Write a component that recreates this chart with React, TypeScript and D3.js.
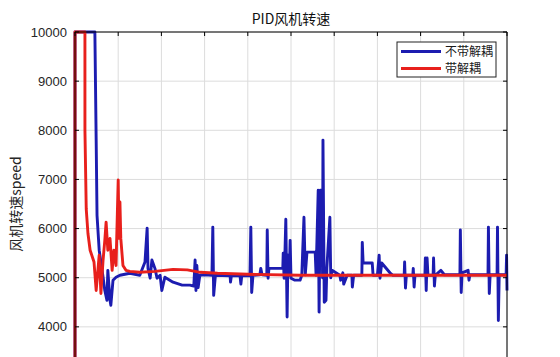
import React from "react";
import * as d3 from "d3";

const title = "PID风机转速";
const yLabel = "风机转速speed";
const seriesNames = ["不带解耦", "带解耦"];
const yTicks = [4000, 5000, 6000, 7000, 8000, 9000, 10000];
const xTicks = [0, 1, 2, 3, 4, 5, 6, 7, 8, 9, 10];

// 不带解耦 (blue)
const blueSeries: [number, number][] = [
  [0, 3000], [0, 10000], [0.46, 10000], [0.49, 7800], [0.51, 6270], [0.56, 5560], [0.6, 5320], [0.65, 5010],
  [0.69, 4740], [0.74, 4540], [0.76, 5150], [0.81, 4540], [0.83, 4440], [0.88, 4950], [0.95, 5010], [1.04, 5050],
  [1.27, 5090], [1.5, 5050], [1.62, 5320], [1.67, 6010], [1.69, 5190], [1.74, 4990], [1.78, 5360], [1.85, 5190],
  [1.9, 4990], [1.97, 5050], [2.01, 4740], [2.08, 5010], [2.27, 4910], [2.48, 4850], [2.66, 4850], [2.75, 4830],
  [2.78, 5360], [2.8, 4740], [2.82, 5250], [2.85, 4800], [2.89, 5050], [3.0, 5060], [3.17, 5050], [3.19, 6030],
  [3.21, 4640], [3.25, 5050], [3.59, 5040], [3.6, 4910], [3.62, 5040], [3.82, 5040], [3.84, 4870], [3.86, 5040],
  [4.05, 5040], [4.07, 6030], [4.09, 4700], [4.12, 5050], [4.28, 5060], [4.3, 5190], [4.33, 5060], [4.44, 5050],
  [4.45, 5970], [4.47, 4990], [4.49, 5190], [4.81, 5190], [4.82, 5500], [4.84, 4990], [4.86, 5500], [4.88, 6190],
  [4.91, 4200], [4.93, 5460], [4.96, 5050], [4.98, 5760], [5.0, 4990], [5.09, 4950], [5.21, 4950], [5.25, 5050],
  [5.3, 6230], [5.33, 5060], [5.37, 5520], [5.56, 5520], [5.58, 5050], [5.63, 6780], [5.65, 4300], [5.68, 6780],
  [5.72, 6780], [5.73, 5000], [5.74, 7800], [5.77, 4500], [5.81, 4540], [5.83, 5200], [5.9, 6230], [5.92, 5000],
  [5.95, 5150], [6.13, 5050], [6.15, 4950], [6.2, 5100], [6.22, 4870], [6.3, 5050], [6.41, 5050], [6.42, 4810],
  [6.45, 5050], [6.64, 5050], [6.65, 5720], [6.67, 5300], [6.88, 5300], [6.9, 5050], [7.0, 5050], [7.04, 5460],
  [7.06, 4990], [7.1, 5300], [7.29, 5100], [7.36, 5050], [7.62, 5050], [7.63, 5320], [7.65, 4790], [7.67, 5050],
  [7.82, 5050], [7.83, 5190], [7.85, 4810], [7.87, 5050], [8.1, 5050], [8.11, 5400], [8.13, 4740], [8.15, 5400],
  [8.17, 5050], [8.29, 5050], [8.3, 5400], [8.32, 4830], [8.34, 5050], [8.47, 5150], [8.55, 5060], [8.91, 5060],
  [8.92, 5970], [8.94, 4700], [8.96, 5100], [9.1, 5150], [9.12, 4950], [9.14, 5060], [9.56, 5060], [9.57, 6030],
  [9.59, 4680], [9.61, 5060], [9.77, 5060], [9.78, 6030], [9.8, 4130], [9.82, 5060], [9.98, 5060], [9.99, 5460],
  [10.0, 4740],
];

// 带解耦 (red)
const redSeries: [number, number][] = [
  [0, 3000], [0, 10000], [0.23, 10000], [0.23, 8000], [0.26, 6400], [0.3, 5900], [0.35, 5560], [0.44, 5320], [0.49, 4740],
  [0.56, 5460], [0.6, 4680], [0.65, 5360], [0.69, 5760], [0.72, 6130], [0.76, 5560], [0.81, 5800], [0.86, 5150],
  [0.9, 5560], [0.95, 5250], [1.0, 6990], [1.02, 5800], [1.04, 6540], [1.06, 5800], [1.11, 5250], [1.18, 5150],
  [1.27, 5130], [1.5, 5110], [1.85, 5130], [2.27, 5170], [2.6, 5160], [2.9, 5110], [3.3, 5090], [4.0, 5070],
  [5.21, 5050], [10, 5050],
];

const W = 560;
const H = 400;
const M = { left: 75, right: 53, top: 32, bottom: 24 };

export default function App() {
  const x = d3.scaleLinear().domain([0, 10]).range([M.left, W - M.right]);
  const y = d3.scaleLinear().domain([3000, 10000]).range([H - M.bottom, M.top]);
  const line = d3
    .line<[number, number]>()
    .x((d) => x(d[0]))
    .y((d) => y(d[1]));
  const font = "'Liberation Sans', Arial, sans-serif";
  const cjk = "'Noto Sans CJK SC', 'Liberation Sans', sans-serif";
  const x0 = x(0), x1 = x(10), yTop = y(10000), yBot = y(3000);
  return (
    <svg
      width={W}
      height={H}
      style={{ position: "absolute", left: 0, top: 0, background: "#fff" }}
    >
      <rect x={0} y={0} width={W} height={H} fill="#fff" />
      {/* grid */}
      {xTicks.map((t) => (
        <line key={"gx" + t} x1={x(t)} x2={x(t)} y1={yTop} y2={yBot} stroke="#dcdcdc" strokeWidth={1} />
      ))}
      {yTicks.map((t) => (
        <line key={"gy" + t} x1={x0} x2={x1} y1={y(t)} y2={y(t)} stroke="#dcdcdc" strokeWidth={1} />
      ))}
      <defs>
        <clipPath id="plotclip">
          <rect x={x0 - 2} y={yTop - 2} width={x1 - x0 + 4} height={yBot - yTop + 4} />
        </clipPath>
      </defs>
      <g clipPath="url(#plotclip)">
        <path d={line(blueSeries) || ""} fill="none" stroke="#1c1cb0" strokeWidth={2.9} strokeLinejoin="round" />
        <path d={line(redSeries) || ""} fill="none" stroke="#e8201c" strokeWidth={2.9} strokeLinejoin="round" />
      </g>
      {/* box */}
      <line x1={x0} x2={x1} y1={yTop} y2={yTop} stroke="#000" strokeWidth={1} />
      <line x1={x1} x2={x1} y1={yTop} y2={yBot} stroke="#000" strokeWidth={1} />
      <line x1={x0} x2={x0} y1={yTop} y2={yBot} stroke="#000" strokeWidth={1} />
      <line x1={x0} x2={x1} y1={yBot} y2={yBot} stroke="#000" strokeWidth={1} />
      {/* ticks */}
      {xTicks.map((t) => (
        <g key={"tx" + t}>
          <line x1={x(t)} x2={x(t)} y1={yTop} y2={yTop + 4} stroke="#000" />
          <line x1={x(t)} x2={x(t)} y1={yBot} y2={yBot - 4} stroke="#000" />
        </g>
      ))}
      {yTicks.map((t) => (
        <g key={"ty" + t}>
          <line x1={x0} x2={x0 + 4} y1={y(t)} y2={y(t)} stroke="#000" />
          <line x1={x1} x2={x1 - 4} y1={y(t)} y2={y(t)} stroke="#000" />
          <text x={x0 - 8} y={y(t)} dy="0.35em" textAnchor="end" fontFamily={font} fontSize={13} fill="#262626">
            {t}
          </text>
        </g>
      ))}
      <text x={(x0 + x1) / 2} y={24} textAnchor="middle" fontFamily={cjk} fontSize={14} fill="#111">
        {title}
      </text>
      <text
        transform={`translate(21, ${(yTop + yBot) / 2}) rotate(-90)`}
        textAnchor="middle"
        fontFamily={cjk}
        fontSize={14}
        fill="#262626"
      >
        {yLabel}
      </text>
      {/* legend */}
      <g>
        <rect x={397} y={42} width={99} height={35} fill="#fff" stroke="#222" strokeWidth={1} />
        <line x1={401} x2={441} y1={51.5} y2={51.5} stroke="#1c1cb0" strokeWidth={2.9} />
        <line x1={401} x2={441} y1={68.5} y2={68.5} stroke="#e8201c" strokeWidth={2.9} />
        <text x={445} y={51.5} dy="0.35em" fontFamily={cjk} fontSize={12} fill="#1a1a1a">
          {seriesNames[0]}
        </text>
        <text x={445} y={68.5} dy="0.35em" fontFamily={cjk} fontSize={12} fill="#1a1a1a">
          {seriesNames[1]}
        </text>
      </g>
    </svg>
  );
}
